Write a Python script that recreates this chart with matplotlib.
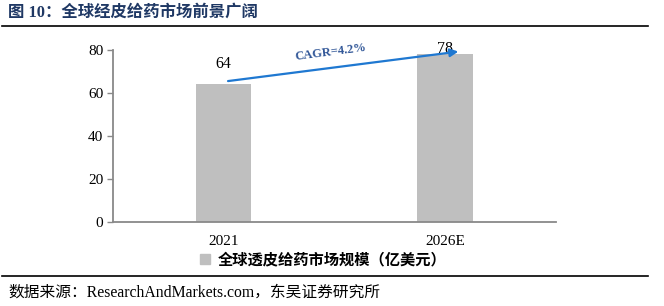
import matplotlib
matplotlib.use('Agg')
import matplotlib.pyplot as plt
import matplotlib.patches as mpatches
from matplotlib.lines import Line2D

# Data
categories = ['2021', '2026E']
market_size = [64, 78]
cagr_label = 'CAGR=4.2%'
yticks = [0, 20, 40, 60, 80]

# label offsets above bar tops (layout only)
label_offsets = [9.4, 2.6]

SERIF_CJK = ['Liberation Serif', 'Noto Sans CJK SC']
CJK = ['Noto Sans CJK SC', 'DejaVu Sans']
BAR_COLOR = '#bfbfbf'
AXIS_COLOR = '#898989'

fig = plt.figure(figsize=(6.64, 3.06), dpi=100)
ax = fig.add_axes([0.170, 0.2745, 0.667, 0.5625])

x = range(len(categories))
bars = ax.bar(x, market_size, width=0.25, color=BAR_COLOR, zorder=2)
for i, v in enumerate(market_size):
    ax.text(i, v + label_offsets[i], f'{v}', ha='center', va='center',
            fontsize=11.5, family='Liberation Serif', color='black', zorder=1)

ax.set_xlim(-0.5, 1.5)
ax.set_ylim(0, 80)
ax.set_yticks(yticks)
ax.set_xticks(list(x))
ax.set_xticklabels(categories, family='Liberation Serif', fontsize=11)
for lbl in ax.get_yticklabels():
    lbl.set_family('Liberation Serif')
    lbl.set_fontsize(11)
ax.tick_params(axis='x', length=0, pad=9)
ax.tick_params(axis='y', direction='out', length=4, color=AXIS_COLOR, width=1, pad=3)
for s in ['top', 'right']:
    ax.spines[s].set_visible(False)
for s in ['left', 'bottom']:
    ax.spines[s].set_color(AXIS_COLOR)
    ax.spines[s].set_linewidth(1.3)

# CAGR arrow
ax.annotate('', xy=(1.06, 79.2), xytext=(0.02, 65.5),
            arrowprops=dict(arrowstyle='-|>', color='#1f78d1', lw=1.6,
                            mutation_scale=12, shrinkA=0, shrinkB=0),
            zorder=3, annotation_clip=False)
ax.text(0.485, 79.0, cagr_label, rotation=7.5, ha='center', va='center',
        fontsize=9, fontweight='bold', family='Liberation Serif', color='#2f5597',
        clip_on=False)

# Legend
handle = mpatches.Patch(color=BAR_COLOR, label='全球透皮给药市场规模（亿美元）')
leg = fig.legend(handles=[handle], loc='center left', bbox_to_anchor=(0.280, 0.152),
                 frameon=False, handlelength=0.7, handleheight=0.7, handletextpad=0.45,
                 prop={'family': CJK, 'size': 11, 'weight': 'bold'})

# Title, rules and source
fig.text(0.012, 0.957, '图 10：全球经皮给药市场前景广阔', ha='left', va='center',
         fontsize=11.8, fontweight='bold', color='#1f3864', family=SERIF_CJK)
fig.add_artist(Line2D([0.003, 0.976], [0.915, 0.915], color='black', lw=1.2))
fig.add_artist(Line2D([0.003, 0.976], [0.098, 0.098], color='black', lw=1.2))
fig.text(0.012, 0.045, '数据来源：ResearchAndMarkets.com，东吴证券研究所', ha='left', va='center',
         fontsize=11.3, color='black', family=SERIF_CJK)

fig.savefig('out.png', dpi=100, facecolor='white')
